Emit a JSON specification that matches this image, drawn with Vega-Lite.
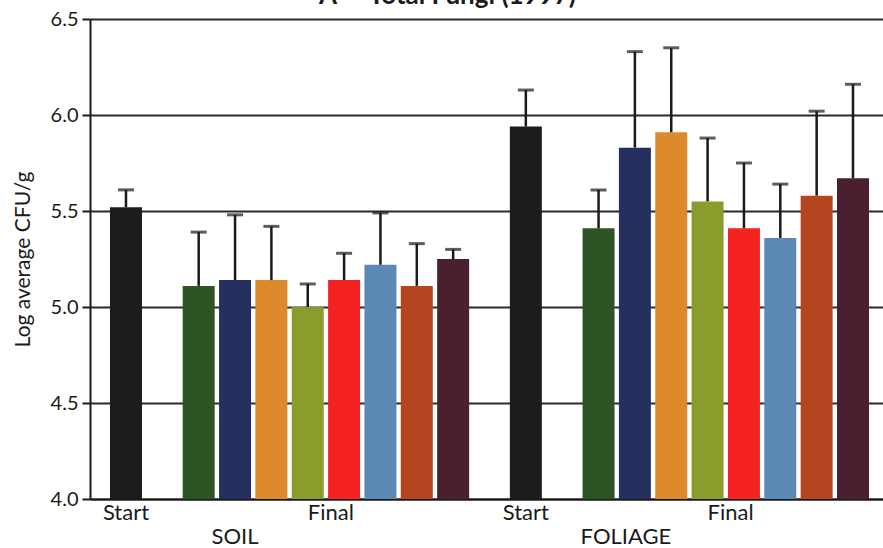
{
  "$schema": "https://vega.github.io/schema/vega-lite/v6.json",
  "autosize": {"type": "none"},
  "padding": {"left": 90, "top": 19, "right": 0, "bottom": 49},
  "width": 793,
  "height": 480,
  "background": "white",
  "title": {
    "text": "A — Total Fungi (1997)",
    "font": "Lato",
    "fontSize": 26,
    "fontWeight": "bold",
    "color": "#1a1a1a",
    "baseline": "alphabetic",
    "offset": -21,
    "dx": -39
  },
  "config": {
    "view": {"stroke": null},
    "font": "Lato"
  },
  "data": {
    "values": [
      {"site": "SOIL", "bar": "SOIL Start", "treatment": "Start", "mean": 5.52, "upper": 5.61},
      {"site": "SOIL", "bar": "SOIL T1", "treatment": "T1", "mean": 5.11, "upper": 5.39},
      {"site": "SOIL", "bar": "SOIL T2", "treatment": "T2", "mean": 5.14, "upper": 5.48},
      {"site": "SOIL", "bar": "SOIL T3", "treatment": "T3", "mean": 5.14, "upper": 5.42},
      {"site": "SOIL", "bar": "SOIL T4", "treatment": "T4", "mean": 5.0, "upper": 5.12},
      {"site": "SOIL", "bar": "SOIL T5", "treatment": "T5", "mean": 5.14, "upper": 5.28},
      {"site": "SOIL", "bar": "SOIL T6", "treatment": "T6", "mean": 5.22, "upper": 5.49},
      {"site": "SOIL", "bar": "SOIL T7", "treatment": "T7", "mean": 5.11, "upper": 5.33},
      {"site": "SOIL", "bar": "SOIL T8", "treatment": "T8", "mean": 5.25, "upper": 5.30},
      {"site": "FOLIAGE", "bar": "FOLIAGE Start", "treatment": "Start", "mean": 5.94, "upper": 6.13},
      {"site": "FOLIAGE", "bar": "FOLIAGE T1", "treatment": "T1", "mean": 5.41, "upper": 5.61},
      {"site": "FOLIAGE", "bar": "FOLIAGE T2", "treatment": "T2", "mean": 5.83, "upper": 6.33},
      {"site": "FOLIAGE", "bar": "FOLIAGE T3", "treatment": "T3", "mean": 5.91, "upper": 6.35},
      {"site": "FOLIAGE", "bar": "FOLIAGE T4", "treatment": "T4", "mean": 5.55, "upper": 5.88},
      {"site": "FOLIAGE", "bar": "FOLIAGE T5", "treatment": "T5", "mean": 5.41, "upper": 5.75},
      {"site": "FOLIAGE", "bar": "FOLIAGE T6", "treatment": "T6", "mean": 5.36, "upper": 5.64},
      {"site": "FOLIAGE", "bar": "FOLIAGE T7", "treatment": "T7", "mean": 5.58, "upper": 6.02},
      {"site": "FOLIAGE", "bar": "FOLIAGE T8", "treatment": "T8", "mean": 5.67, "upper": 6.16}
    ]
  },
  "encoding": {
    "x": {
      "field": "bar",
      "type": "nominal",
      "sort": null,
      "scale": {
        "domain": ["SOIL Start", "SOIL gap", "SOIL T1", "SOIL T2", "SOIL T3", "SOIL T4", "SOIL T5", "SOIL T6", "SOIL T7", "SOIL T8", "mid gap", "FOLIAGE Start", "FOLIAGE gap", "FOLIAGE T1", "FOLIAGE T2", "FOLIAGE T3", "FOLIAGE T4", "FOLIAGE T5", "FOLIAGE T6", "FOLIAGE T7", "FOLIAGE T8"],
        "paddingInner": 0.12,
        "paddingOuter": 0.4677,
        "align": 0.588
      },
      "axis": {
        "title": null,
        "ticks": false,
        "domain": true,
        "domainColor": "#1a1a1a",
        "domainWidth": 2,
        "labelAngle": 0,
        "labelFont": "Lato",
        "labelFontSize": 22,
        "labelColor": "#1a1a1a",
        "labelBaseline": "top",
        "labelPadding": 3,
        "labelLineHeight": 24,
        "labelOverlap": false,
        "labelBound": false,
        "labelExpr": "indexof(datum.value, 'Start') >= 0 ? 'Start' : (datum.value == 'SOIL T4' || datum.value == 'FOLIAGE T4') ? 'Final' : datum.value == 'SOIL T2' ? ['', 'SOIL'] : datum.value == 'FOLIAGE T3' ? ['', 'FOLIAGE'] : ''",
        "labelAlign": {
          "condition": [
            {"test": "datum.value == 'SOIL T4' || datum.value == 'FOLIAGE T4'", "value": "left"},
            {"test": "datum.value == 'FOLIAGE T3'", "value": "right"}
          ],
          "value": "center"
        }
      }
    }
  },
  "layer": [
    {
      "mark": {"type": "bar"},
      "encoding": {
        "y": {
          "field": "mean",
          "type": "quantitative",
          "scale": {"domain": [4.0, 6.5], "zero": false, "nice": false},
          "axis": {
            "title": "Log average CFU/g",
            "titleFont": "Lato",
            "titleFontSize": 21,
            "titleFontWeight": "normal",
            "titleColor": "#1a1a1a",
            "titlePadding": 17,
            "values": [4.0, 4.5, 5.0, 5.5, 6.0, 6.5],
            "format": ".1f",
            "labelFont": "Lato",
            "labelFontSize": 20,
            "labelColor": "#1a1a1a",
            "labelPadding": 4,
            "tickSize": 8,
            "tickColor": "#1a1a1a",
            "tickWidth": 2,
            "domainColor": "#1a1a1a",
            "domainWidth": 2,
            "grid": true,
            "gridColor": "#2a2a2a",
            "gridWidth": 2,
            "gridOpacity": 1
          }
        },
        "y2": {"datum": 4.0},
        "color": {
          "field": "treatment",
          "type": "nominal",
          "legend": null,
          "scale": {
            "domain": ["Start", "T1", "T2", "T3", "T4", "T5", "T6", "T7", "T8"],
            "range": ["#1c1c1c", "#2e5426", "#25305e", "#dc8a2c", "#8a9c2c", "#f52222", "#5b88b5", "#b54420", "#4a2030"]
          }
        }
      }
    },
    {
      "mark": {"type": "rule", "color": "#1a1a1a", "strokeWidth": 2.5},
      "encoding": {
        "y": {"field": "mean", "type": "quantitative"},
        "y2": {"field": "upper"}
      }
    },
    {
      "mark": {"type": "tick", "color": "#1a1a1a", "thickness": 3, "size": 16},
      "encoding": {
        "y": {"field": "upper", "type": "quantitative"}
      }
    }
  ]
}
